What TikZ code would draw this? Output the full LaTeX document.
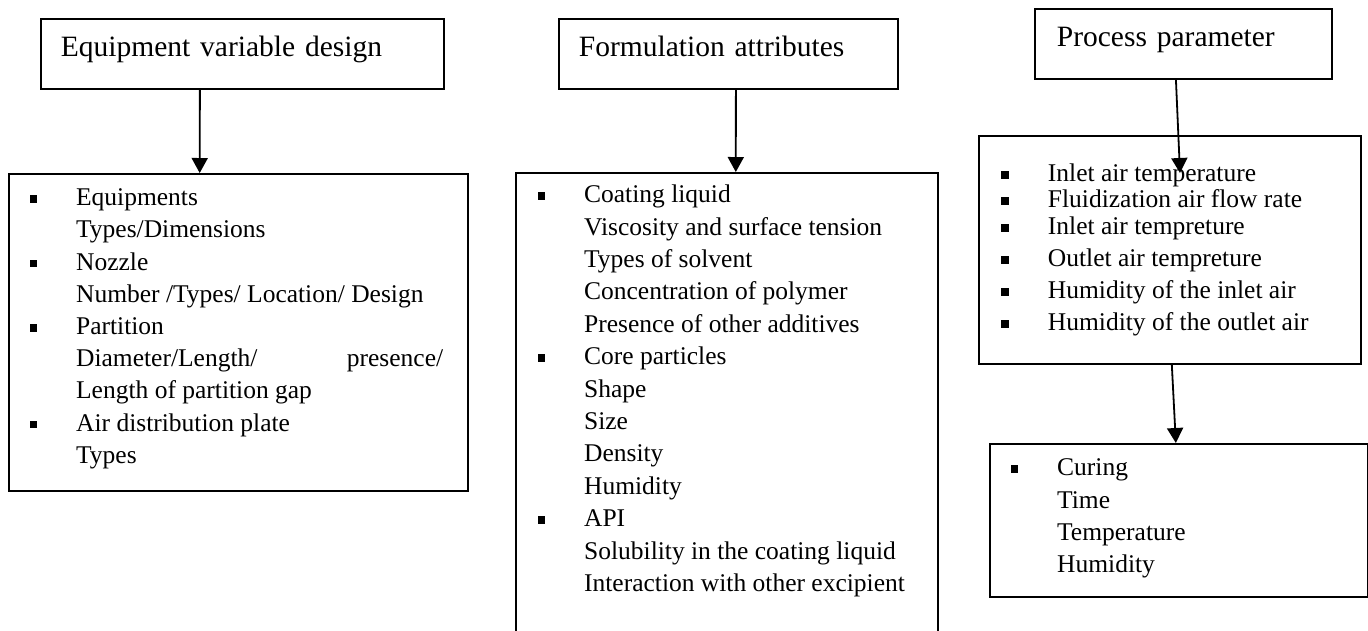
\documentclass[tikz,border=0pt]{standalone}
\usepackage{fontspec}
\setmainfont{Liberation Serif}
\usetikzlibrary{calc,matrix,arrows.meta}

\newcommand\headfont{\fontsize{29.5}{34}\selectfont}
\newcommand\listfont{\fontsize{25.5}{30}\selectfont}
\newcommand\sqbullet{\raisebox{3pt}{\rule{7.5pt}{7.5pt}}}

\tikzset{
  head/.style={draw, line width=1.8pt, anchor=north west, align=left,
    inner xsep=20pt, inner ysep=0pt, minimum height=70pt,
    text height=20pt, text depth=14pt, font=\headfont},
  listbox/.style={draw, line width=1.8pt, anchor=north west, inner sep=0pt},
  items/.style={matrix of nodes, anchor=north west, inner sep=0pt,
    column sep=39pt,
    nodes={anchor=base west, inner sep=0pt, text height=17pt,
      text depth=6pt, font=\listfont}},
  link/.style={line width=1.8pt, -{Triangle[length=15pt,width=16pt]}}
}

\begin{document}
\begin{tikzpicture}[x=1pt, y=-1pt]
    \useasboundingbox (0,0) rectangle (1368,630);
    \clip (0,0) rectangle (1368,630);

    % headers
    \node[head, text width=363pt] (equiph) at (40,18) {Equipment variable design};
    \node[head, text width=299pt] (formh) at (558,18) {Formulation attributes};
    \node[head, text width=253pt, inner xsep=22pt] (proch) at (1034,8) {Process parameter};

    % boxes
    \node[listbox, minimum width=459pt, minimum height=317pt] (equipbox) at (8,173) {};
    \node[listbox, minimum width=422pt, minimum height=480pt] (formbox) at (515,172) {};
    \node[listbox, minimum width=382pt, minimum height=228pt] (procbox) at (978,135) {};
    \node[listbox, minimum width=378pt, minimum height=153pt] (curebox) at (989,443) {};

    % lists
    \matrix [items, row sep=9.2pt] (equip) at (29.25,188.5) {%
      \sqbullet & Equipments \\
                & Types/Dimensions \\
      \sqbullet & Nozzle \\
                & Number /Types/ Location/ Design \\
      \sqbullet & Partition \\
                & \makebox[367pt][s]{Diameter/Length/ presence/} \\
                & Length of partition gap \\
      \sqbullet & Air distribution plate \\
                & Types \\
    };

    \matrix [items, row sep=9.4pt] (form) at (537.25,185.5) {%
      \sqbullet & Coating liquid \\
                & Viscosity and surface tension \\
                & Types of solvent \\
                & Concentration of polymer \\
                & Presence of other additives \\
      \sqbullet & Core particles \\
                & Shape \\
                & Size \\
                & Density \\
                & Humidity \\
      \sqbullet & API \\
                & Solubility in the coating liquid \\
                & Interaction with other excipient \\
    };

    \matrix [items, row sep=3pt] (proc) at (1001.25,164.5) {%
      \sqbullet & Inlet air temperature \\
      \sqbullet & Fluidization air flow rate \\[1pt]
      \sqbullet & Inlet air tempreture \\[6pt]
      \sqbullet & Outlet air tempreture \\[6pt]
      \sqbullet & Humidity of the inlet air \\[6pt]
      \sqbullet & Humidity of the outlet air \\
    };

    \matrix [items, row sep=9.3pt] (cure) at (1010.25,458.5) {%
      \sqbullet & Curing \\
                & Time \\
                & Temperature \\
                & Humidity \\
    };

    % arrows
    \coordinate (proctip) at (1180,173);
    \draw[link] ($(equiph.south west)!0.395!(equiph.south east)$) -- ($(equipbox.north west)!0.416!(equipbox.north east)$);
    \draw[link] ($(formh.south west)!0.522!(formh.south east)$) -- ($(formbox.north west)!0.521!(formbox.north east)$);
    \draw[link] ($(proch.south west)!0.475!(proch.south east)$) -- (proctip);
    \draw[link] ($(procbox.south west)!0.505!(procbox.south east)$) -- ($(curebox.north west)!0.492!(curebox.north east)$);
\end{tikzpicture}
\end{document}
